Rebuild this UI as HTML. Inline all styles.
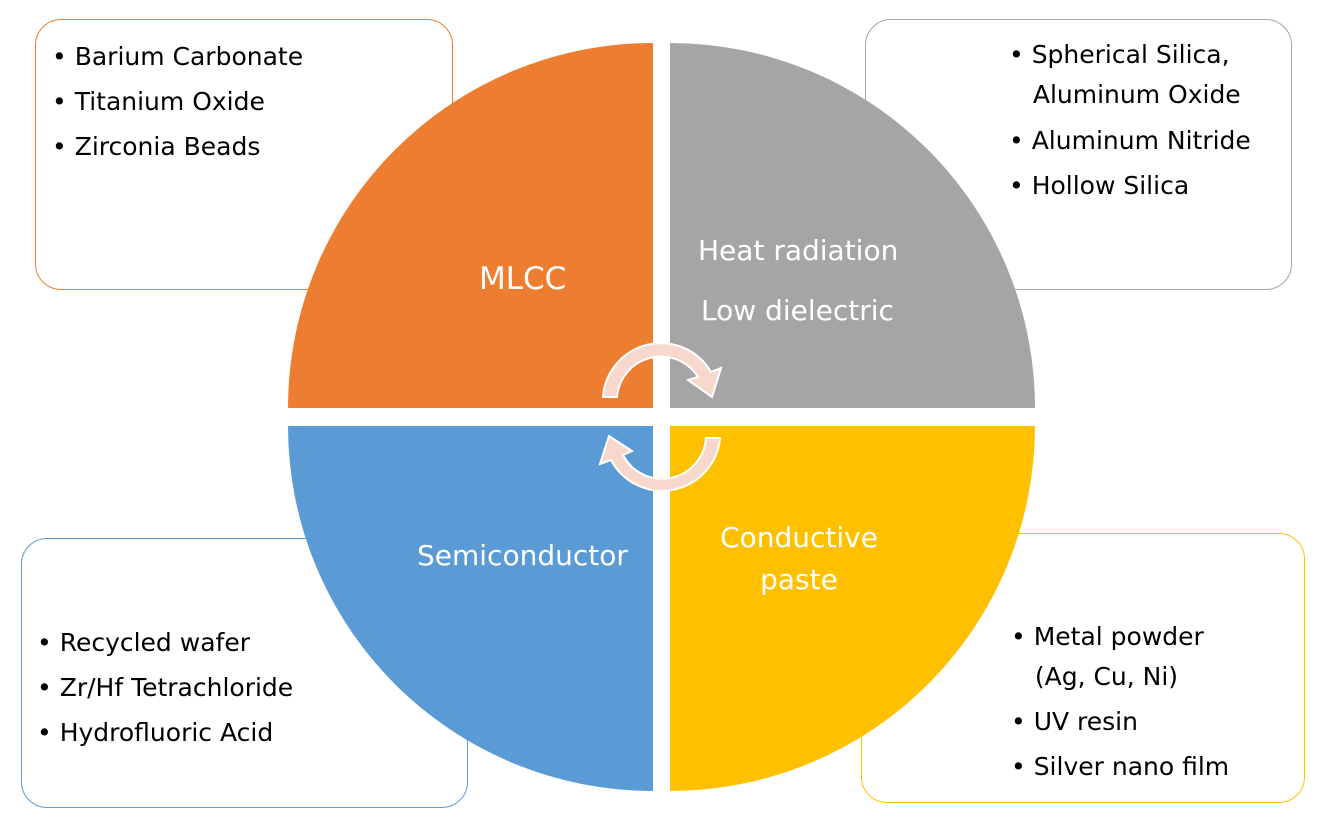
<!DOCTYPE html>
<html><head><style>
body{margin:0;width:1323px;height:817px;background:#fff;overflow:hidden;position:relative;font-family:"DejaVu Sans","Liberation Sans",sans-serif;}
.box{position:absolute;border-radius:26px;background:#fff;box-sizing:border-box;}
.t{position:absolute;font-size:25px;color:#000;line-height:45px;white-space:nowrap;}
.w{position:absolute;font-size:28px;color:#fff;white-space:nowrap;}
</style></head><body>
<div class="box" style="left:35px;top:19px;width:418px;height:271px;border:1.5px solid #ed7d31"></div>
<div class="box" style="left:865px;top:19px;width:427px;height:271px;border:1.5px solid #a5a5a5"></div>
<div class="box" style="left:21px;top:538px;width:447px;height:270px;border:1.5px solid #5b9bd5"></div>
<div class="box" style="left:861px;top:533px;width:444px;height:270px;border:1.5px solid #ffc000"></div>
<svg width="1323" height="817" style="position:absolute;left:0;top:0">
<path d="M653 408 L288 408 A365 365 0 0 1 653 43 Z" fill="#ed7d31"/>
<path d="M670 408 L670 43 A365 365 0 0 1 1035 408 Z" fill="#a5a5a5"/>
<path d="M653 426 L653 791 A365 365 0 0 1 288 426 Z" fill="#5b9bd5"/>
<path d="M670 426 L1035 426 A365 365 0 0 1 670 791 Z" fill="#ffc000"/>
<g fill="#f8d8cc" stroke="#fff" stroke-width="2">
<path d="M603 397 A58 58 0 0 1 711 372 L721 368 L712 397 L688 380 L698 377 A44 44 0 0 0 617 397 Z"/>
<path d="M720 438 A58 58 0 0 1 611 460 L600 464 L609 436 L632 451 L623 455 A44 44 0 0 0 706 438 Z"/>
</g>
</svg>
<div class="t" style="left:52px;top:34px">• Barium Carbonate<br>• Titanium Oxide<br>• Zirconia Beads</div>
<div class="t" style="left:1009px;top:35px;line-height:40px">• Spherical Silica,<br>&nbsp;&nbsp;&nbsp;Aluminum Oxide</div>
<div class="t" style="left:1009px;top:118px">• Aluminum Nitride<br>• Hollow Silica</div>
<div class="t" style="left:37px;top:620px">• Recycled wafer<br>• Zr/Hf Tetrachloride<br>• Hydrofluoric Acid</div>
<div class="t" style="left:1011px;top:617px;line-height:40px">• Metal powder<br>&nbsp;&nbsp;&nbsp;(Ag, Cu, Ni)</div>
<div class="t" style="left:1011px;top:699px">• UV resin<br>• Silver nano film</div>
<div class="w" style="left:479px;top:261px;font-size:31px">MLCC</div>
<div class="w" style="left:698px;top:234px">Heat radiation</div>
<div class="w" style="left:701px;top:294px">Low dielectric</div>
<div class="w" style="left:417px;top:539px">Semiconductor</div>
<div class="w" style="left:718px;top:517px;text-align:center;width:162px;line-height:42px">Conductive<br>paste</div>
</body></html>
